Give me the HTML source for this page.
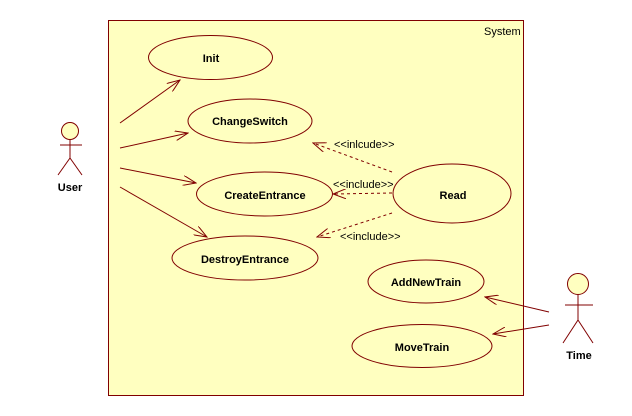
<!DOCTYPE html>
<html><head><meta charset="utf-8"><style>
html,body{margin:0;padding:0;background:#fff;width:632px;height:416px;overflow:hidden}
svg text{font-family:"Liberation Sans",Arial,sans-serif;font-size:11px;fill:#000}
.b{font-weight:bold}
</style></head><body>
<svg width="632" height="416" viewBox="0 0 632 416" xmlns="http://www.w3.org/2000/svg">
<defs>
<marker id="a" markerWidth="14" markerHeight="10" refX="13" refY="5" orient="auto" markerUnits="userSpaceOnUse">
<path d="M0,0 L13,5 L0,10" fill="none" stroke="#800000" stroke-width="1"/>
</marker>
</defs>
<rect x="108.5" y="20.5" width="415" height="375" fill="#ffffc0" stroke="#800000"/>
<text x="484" y="35">System</text>
<g fill="#ffffc0" stroke="#800000">
<ellipse cx="210.5" cy="57.5" rx="62" ry="22"/>
<ellipse cx="250" cy="121" rx="62" ry="22"/>
<ellipse cx="264.5" cy="194" rx="68" ry="22"/>
<ellipse cx="245" cy="258" rx="73" ry="22"/>
<ellipse cx="452" cy="193.5" rx="59" ry="29.5"/>
<ellipse cx="426" cy="281.5" rx="58" ry="21.5"/>
<ellipse cx="422" cy="346" rx="70" ry="21.5"/>
</g>
<g text-anchor="middle">
<text x="211" y="62" class="b">Init</text>
<text x="250" y="125" class="b">ChangeSwitch</text>
<text x="265" y="199" class="b">CreateEntrance</text>
<text x="245" y="263" class="b">DestroyEntrance</text>
<text x="453" y="199" class="b">Read</text>
<text x="426" y="286" class="b">AddNewTrain</text>
<text x="422" y="351" class="b">MoveTrain</text>
</g>
<g stroke="#800000" fill="none">
<line x1="120" y1="123" x2="180" y2="80" marker-end="url(#a)"/>
<line x1="120" y1="148" x2="188" y2="133" marker-end="url(#a)"/>
<line x1="120" y1="168" x2="196" y2="183" marker-end="url(#a)"/>
<line x1="120" y1="187" x2="207" y2="237" marker-end="url(#a)"/>
<line x1="549" y1="312" x2="485" y2="297" marker-end="url(#a)"/>
<line x1="549" y1="325" x2="493" y2="334" marker-end="url(#a)"/>
<g stroke-dasharray="3,3">
<line x1="392" y1="172" x2="313" y2="143" marker-end="url(#a)"/>
<line x1="392" y1="193" x2="333" y2="194" marker-end="url(#a)"/>
<line x1="392" y1="213" x2="317" y2="237" marker-end="url(#a)"/>
</g>
<circle cx="70" cy="131" r="8.5" fill="#ffffc0"/>
<line x1="70" y1="140" x2="70" y2="158"/>
<line x1="60" y1="145" x2="82" y2="145"/>
<line x1="70" y1="158" x2="58" y2="175"/>
<line x1="70" y1="158" x2="82" y2="175"/>
<circle cx="578" cy="284" r="10.5" fill="#ffffc0"/>
<line x1="578" y1="295" x2="578" y2="320"/>
<line x1="565" y1="305" x2="593" y2="305"/>
<line x1="578" y1="320" x2="563" y2="343"/>
<line x1="578" y1="320" x2="593" y2="343"/>
</g>
<text x="334" y="148">&lt;&lt;inlcude&gt;&gt;</text>
<text x="333" y="188">&lt;&lt;include&gt;&gt;</text>
<text x="340" y="240">&lt;&lt;include&gt;&gt;</text>
<text x="70" y="191" text-anchor="middle" class="b">User</text>
<text x="579" y="359" text-anchor="middle" class="b">Time</text>
</svg>
</body></html>
